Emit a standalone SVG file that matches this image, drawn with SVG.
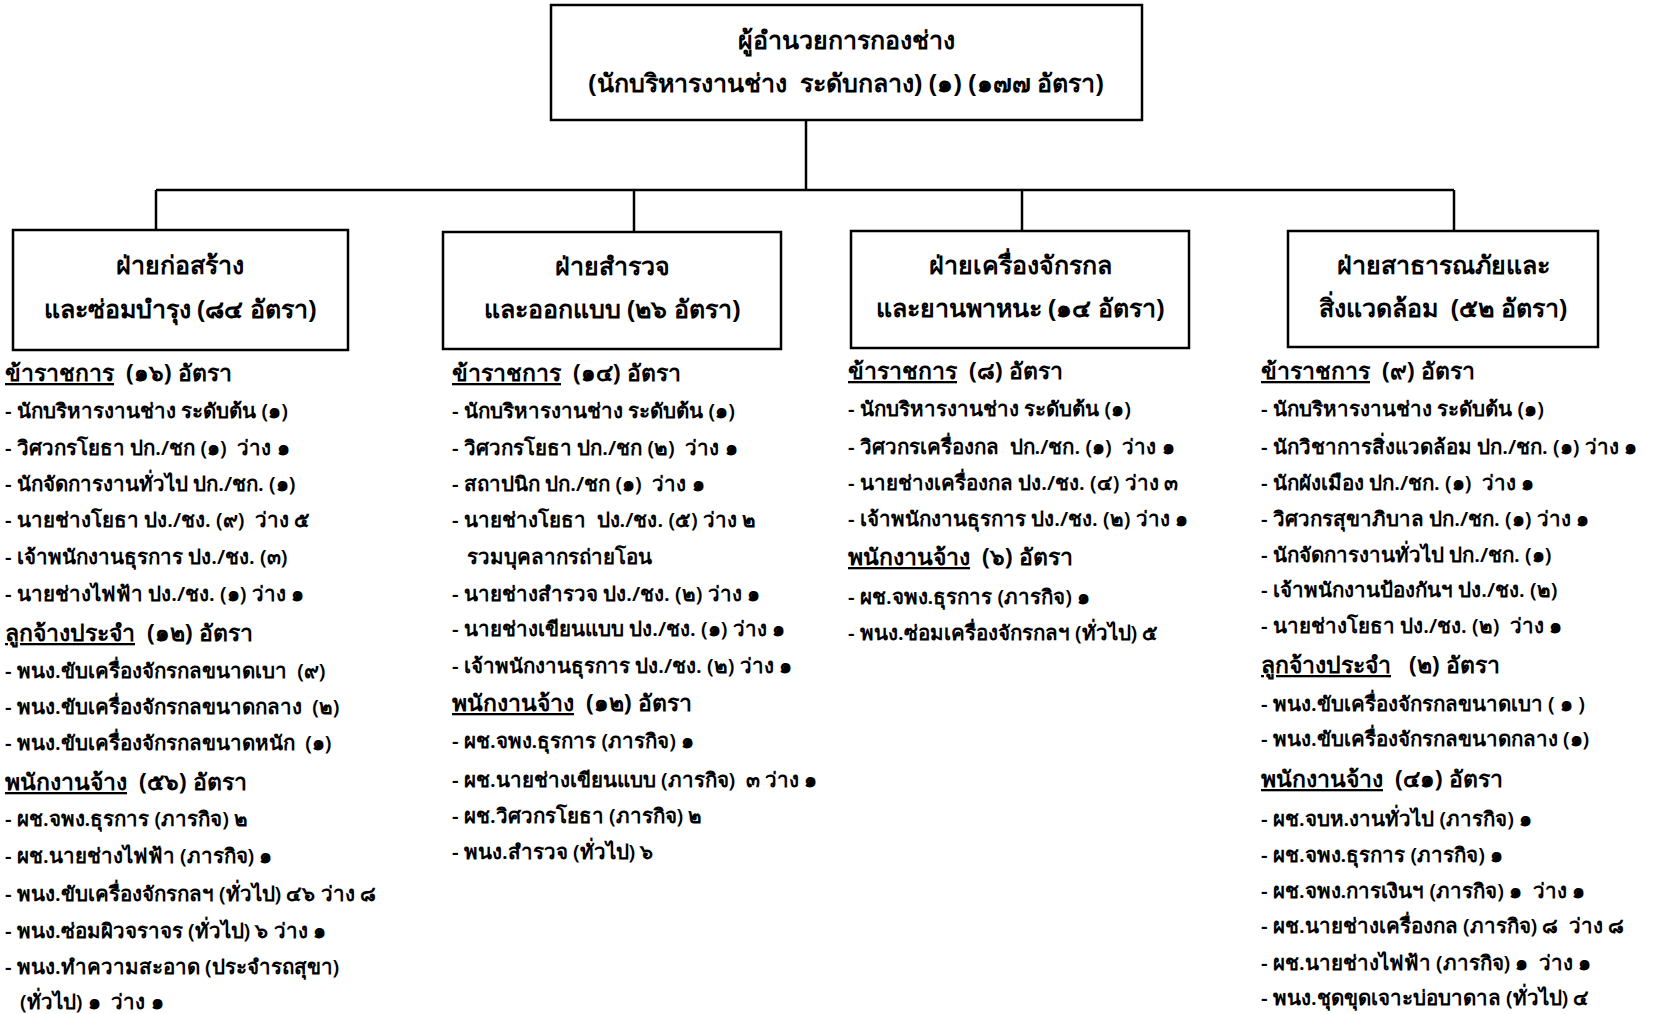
<svg xmlns="http://www.w3.org/2000/svg" width="1662" height="1014" viewBox="0 0 1662 1014">
<style>
text{font-family:"Noto Sans","DejaVu Sans",sans-serif;fill:#000;white-space:pre}
.box{fill:#fff;stroke:#000;stroke-width:2.5}
.t{font-size:25px;font-weight:bold;text-anchor:middle}
.h{font-size:23px;font-weight:bold}
.i{font-size:20.5px;font-weight:600}
.u{text-decoration:underline}
.c{fill:none;stroke:#000;stroke-width:2.5}
</style>
<rect width="1662" height="1014" fill="#fff"/>
<g id="connectors">
<path class="c" d="M806 120V190M156 190H1454M156 190V230M634 190V232M1022 190V231M1454 190V230"/>
</g>
<g id="director">
<rect class="box" x="551" y="5" width="591" height="115"/>
<text class="t" x="846" y="49">ผู้อำนวยการกองช่าง</text>
<text class="t" x="846" y="92">(นักบริหารงานช่าง  ระดับกลาง) (๑) (๑๗๗ อัตรา)</text>
</g>
<g id="div1">
<rect class="box" x="13" y="230" width="335" height="120"/>
<text class="t" x="180" y="274">ฝ่ายก่อสร้าง</text>
<text class="t" x="180" y="318">และซ่อมบำรุง (๘๔ อัตรา)</text>
</g>
<g id="div2">
<rect class="box" x="443" y="232" width="338" height="117"/>
<text class="t" x="612" y="275">ฝ่ายสำรวจ</text>
<text class="t" x="612" y="318">และออกแบบ (๒๖ อัตรา)</text>
</g>
<g id="div3">
<rect class="box" x="851" y="231" width="338" height="117"/>
<text class="t" x="1020" y="274">ฝ่ายเครื่องจักรกล</text>
<text class="t" x="1020" y="317">และยานพาหนะ (๑๔ อัตรา)</text>
</g>
<g id="div4">
<rect class="box" x="1288" y="231" width="310" height="116"/>
<text class="t" x="1443" y="274">ฝ่ายสาธารณภัยและ</text>
<text class="t" x="1443" y="317">สิ่งแวดล้อม  (๕๒ อัตรา)</text>
</g>
<g id="list1">
<text class="h" x="5" y="381"><tspan class="u">ข้าราชการ</tspan>  (๑๖) อัตรา</text>
<text class="i" x="5" y="418">- นักบริหารงานช่าง ระดับต้น (๑)</text>
<text class="i" x="5" y="455">- วิศวกรโยธา ปก./ชก (๑)  ว่าง ๑</text>
<text class="i" x="5" y="491">- นักจัดการงานทั่วไป ปก./ชก. (๑)</text>
<text class="i" x="5" y="527">- นายช่างโยธา ปง./ชง. (๙)  ว่าง ๕</text>
<text class="i" x="5" y="564">- เจ้าพนักงานธุรการ ปง./ชง. (๓)</text>
<text class="i" x="5" y="601">- นายช่างไฟฟ้า ปง./ชง. (๑) ว่าง ๑</text>
<text class="h" x="5" y="641"><tspan class="u">ลูกจ้างประจำ</tspan>  (๑๒) อัตรา</text>
<text class="i" x="5" y="678">- พนง.ขับเครื่องจักรกลขนาดเบา  (๙)</text>
<text class="i" x="5" y="714">- พนง.ขับเครื่องจักรกลขนาดกลาง  (๒)</text>
<text class="i" x="5" y="750">- พนง.ขับเครื่องจักรกลขนาดหนัก  (๑)</text>
<text class="h" x="5" y="790"><tspan class="u">พนักงานจ้าง</tspan>  (๕๖) อัตรา</text>
<text class="i" x="5" y="826">- ผช.จพง.ธุรการ (ภารกิจ) ๒</text>
<text class="i" x="5" y="863">- ผช.นายช่างไฟฟ้า (ภารกิจ) ๑</text>
<text class="i" x="5" y="901">- พนง.ขับเครื่องจักรกลฯ (ทั่วไป) ๔๖ ว่าง ๘</text>
<text class="i" x="5" y="938">- พนง.ซ่อมผิวจราจร (ทั่วไป) ๖ ว่าง ๑</text>
<text class="i" x="5" y="974">- พนง.ทำความสะอาด (ประจำรถสุขา)</text>
<text class="i" x="20" y="1009">(ทั่วไป) ๑  ว่าง ๑</text>
</g>
<g id="list2">
<text class="h" x="452" y="381"><tspan class="u">ข้าราชการ</tspan>  (๑๔) อัตรา</text>
<text class="i" x="452" y="418">- นักบริหารงานช่าง ระดับต้น (๑)</text>
<text class="i" x="452" y="455">- วิศวกรโยธา ปก./ชก (๒)  ว่าง ๑</text>
<text class="i" x="452" y="491">- สถาปนิก ปก./ชก (๑)  ว่าง ๑</text>
<text class="i" x="452" y="527">- นายช่างโยธา  ปง./ชง. (๕) ว่าง ๒</text>
<text class="i" x="467" y="564">รวมบุคลากรถ่ายโอน</text>
<text class="i" x="452" y="601">- นายช่างสำรวจ ปง./ชง. (๒) ว่าง ๑</text>
<text class="i" x="452" y="636">- นายช่างเขียนแบบ ปง./ชง. (๑) ว่าง ๑</text>
<text class="i" x="452" y="673">- เจ้าพนักงานธุรการ ปง./ชง. (๒) ว่าง ๑</text>
<text class="h" x="452" y="711"><tspan class="u">พนักงานจ้าง</tspan>  (๑๒) อัตรา</text>
<text class="i" x="452" y="748">- ผช.จพง.ธุรการ (ภารกิจ) ๑</text>
<text class="i" x="452" y="787">- ผช.นายช่างเขียนแบบ (ภารกิจ)  ๓ ว่าง ๑</text>
<text class="i" x="452" y="823">- ผช.วิศวกรโยธา (ภารกิจ) ๒</text>
<text class="i" x="452" y="859">- พนง.สำรวจ (ทั่วไป) ๖</text>
</g>
<g id="list3">
<text class="h" x="848" y="379"><tspan class="u">ข้าราชการ</tspan>  (๘) อัตรา</text>
<text class="i" x="848" y="416">- นักบริหารงานช่าง ระดับต้น (๑)</text>
<text class="i" x="848" y="454">- วิศวกรเครื่องกล  ปก./ชก. (๑)  ว่าง ๑</text>
<text class="i" x="848" y="490">- นายช่างเครื่องกล ปง./ชง. (๔) ว่าง ๓</text>
<text class="i" x="848" y="526">- เจ้าพนักงานธุรการ ปง./ชง. (๒) ว่าง ๑</text>
<text class="h" x="848" y="565"><tspan class="u">พนักงานจ้าง</tspan>  (๖) อัตรา</text>
<text class="i" x="848" y="604">- ผช.จพง.ธุรการ (ภารกิจ) ๑</text>
<text class="i" x="848" y="640">- พนง.ซ่อมเครื่องจักรกลฯ (ทั่วไป) ๕</text>
</g>
<g id="list4">
<text class="h" x="1261" y="379"><tspan class="u">ข้าราชการ</tspan>  (๙) อัตรา</text>
<text class="i" x="1261" y="416">- นักบริหารงานช่าง ระดับต้น (๑)</text>
<text class="i" x="1261" y="454">- นักวิชาการสิ่งแวดล้อม ปก./ชก. (๑) ว่าง ๑</text>
<text class="i" x="1261" y="490">- นักผังเมือง ปก./ชก. (๑)  ว่าง ๑</text>
<text class="i" x="1261" y="526">- วิศวกรสุขาภิบาล ปก./ชก. (๑) ว่าง ๑</text>
<text class="i" x="1261" y="562">- นักจัดการงานทั่วไป ปก./ชก. (๑)</text>
<text class="i" x="1261" y="597">- เจ้าพนักงานป้องกันฯ ปง./ชง. (๒)</text>
<text class="i" x="1261" y="633">- นายช่างโยธา ปง./ชง. (๒)  ว่าง ๑</text>
<text class="h" x="1261" y="673"><tspan class="u">ลูกจ้างประจำ</tspan>   (๒) อัตรา</text>
<text class="i" x="1261" y="711">- พนง.ขับเครื่องจักรกลขนาดเบา ( ๑ )</text>
<text class="i" x="1261" y="746">- พนง.ขับเครื่องจักรกลขนาดกลาง (๑)</text>
<text class="h" x="1261" y="787"><tspan class="u">พนักงานจ้าง</tspan>  (๔๑) อัตรา</text>
<text class="i" x="1261" y="826">- ผช.จบห.งานทั่วไป (ภารกิจ) ๑</text>
<text class="i" x="1261" y="862">- ผช.จพง.ธุรการ (ภารกิจ) ๑</text>
<text class="i" x="1261" y="898">- ผช.จพง.การเงินฯ (ภารกิจ) ๑  ว่าง ๑</text>
<text class="i" x="1261" y="933">- ผช.นายช่างเครื่องกล (ภารกิจ) ๘  ว่าง ๘</text>
<text class="i" x="1261" y="970">- ผช.นายช่างไฟฟ้า (ภารกิจ) ๑  ว่าง ๑</text>
<text class="i" x="1261" y="1005">- พนง.ชุดขุดเจาะบ่อบาดาล (ทั่วไป) ๔</text>
</g>
</svg>
